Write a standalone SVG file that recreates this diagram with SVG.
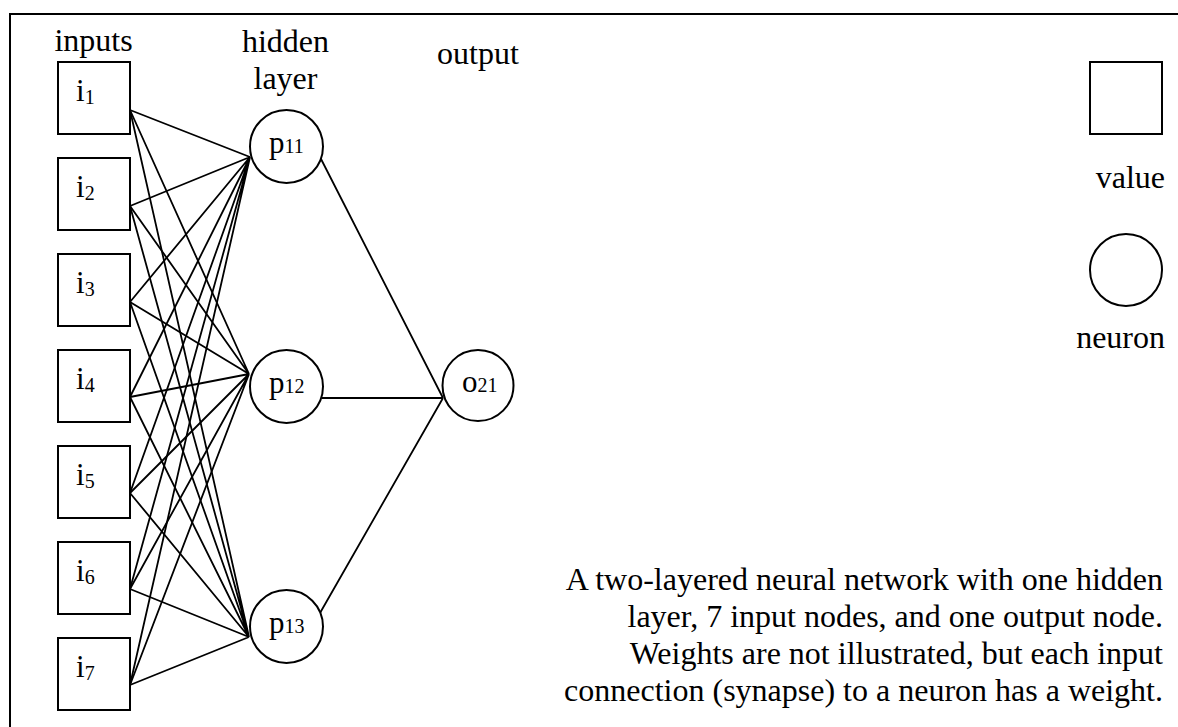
<svg xmlns="http://www.w3.org/2000/svg" width="1178" height="727" viewBox="0 0 1178 727">
  <style>
    text { font-family: "Liberation Serif", "Times New Roman", serif; fill: #000; }
    .lbl { font-size: 32px; }
    .node { font-size: 31px; }
    .sub { font-size: 20px; }
    .box { fill: #fff; stroke: #000; stroke-width: 2; }
    .cell { fill: #fff; stroke: #000; stroke-width: 2; }
    .wire { stroke: #000; stroke-width: 1.8; fill: none; }
  </style>

  <rect x="0" y="0" width="1178" height="727" fill="#fff"/>
  <!-- frame -->
  <rect x="10" y="14" width="1190" height="740" fill="none" stroke="#000" stroke-width="2"/>

  <!-- column headings -->
  <text class="lbl" x="93.5" y="51" text-anchor="middle">inputs</text>
  <text class="lbl" x="285.5" y="52" text-anchor="middle">hidden</text>
  <text class="lbl" x="285.5" y="89" text-anchor="middle">layer</text>
  <text class="lbl" x="478" y="64" text-anchor="middle">output</text>

  <!-- synapses -->
  <g id="connectors">
    <!-- inputs to p11 -->
    <path class="wire" d="M130 110L250 157M130 206L250 157M130 302L250 157M130 397L250 157M130 493L250 157M130 589L250 157M130 685L250 157"/>
    <!-- inputs to p12 -->
    <path class="wire" d="M130 110L249 374M130 206L249 374M130 302L249 374M130 397L249 374M130 493L249 374M130 589L249 374M130 685L249 374"/>
    <!-- inputs to p13 -->
    <path class="wire" d="M130 110L249 637M130 206L249 637M130 302L249 637M130 397L249 637M130 493L249 637M130 589L249 637M130 685L249 637"/>
    <!-- hidden to output -->
    <path class="wire" d="M320 157L443 398M322 398L443 398M320 613L443 398"/>
  </g>

  <!-- input values -->
  <g id="i1"><rect class="box" x="58" y="62" width="72" height="72"/><text class="node" x="76" y="101">i<tspan class="sub" dy="3">1</tspan></text></g>
  <g id="i2"><rect class="box" x="58" y="158" width="72" height="72"/><text class="node" x="76" y="197">i<tspan class="sub" dy="3">2</tspan></text></g>
  <g id="i3"><rect class="box" x="58" y="254" width="72" height="72"/><text class="node" x="76" y="293">i<tspan class="sub" dy="3">3</tspan></text></g>
  <g id="i4"><rect class="box" x="58" y="350" width="72" height="72"/><text class="node" x="76" y="389">i<tspan class="sub" dy="3">4</tspan></text></g>
  <g id="i5"><rect class="box" x="58" y="446" width="72" height="72"/><text class="node" x="76" y="485">i<tspan class="sub" dy="3">5</tspan></text></g>
  <g id="i6"><rect class="box" x="58" y="542" width="72" height="72"/><text class="node" x="76" y="581">i<tspan class="sub" dy="3">6</tspan></text></g>
  <g id="i7"><rect class="box" x="58" y="638" width="72" height="72"/><text class="node" x="76" y="677">i<tspan class="sub" dy="3">7</tspan></text></g>

  <!-- hidden neurons -->
  <g id="p11"><circle class="cell" cx="286.5" cy="146.5" r="36.5"/><text class="node" x="269" y="153">p<tspan class="sub">11</tspan></text></g>
  <g id="p12"><circle class="cell" cx="286.5" cy="386.5" r="36.5"/><text class="node" x="269" y="393">p<tspan class="sub">12</tspan></text></g>
  <g id="p13"><circle class="cell" cx="286.5" cy="626.5" r="36.5"/><text class="node" x="269" y="633">p<tspan class="sub">13</tspan></text></g>

  <!-- output neuron -->
  <g id="o21"><circle class="cell" cx="478" cy="385.5" r="35.5"/><text class="node" x="462" y="392">o<tspan class="sub">21</tspan></text></g>

  <!-- legend -->
  <g id="legend-value"><rect class="box" x="1090" y="62" width="72" height="72"/><text class="lbl" x="1165" y="188" text-anchor="end">value</text></g>
  <g id="legend-neuron"><circle class="cell" cx="1126" cy="270" r="36"/><text class="lbl" x="1165" y="348" text-anchor="end">neuron</text></g>

  <!-- caption -->
  <g id="caption">
    <text class="lbl" x="1163" y="590" text-anchor="end">A two-layered neural network with one hidden</text>
    <text class="lbl" x="1163" y="627" text-anchor="end">layer, 7 input nodes, and one output node.</text>
    <text class="lbl" x="1163" y="664" text-anchor="end">Weights are not illustrated, but each input</text>
    <text class="lbl" x="1163" y="701" text-anchor="end">connection (synapse) to a neuron has a weight.</text>
  </g>
</svg>
